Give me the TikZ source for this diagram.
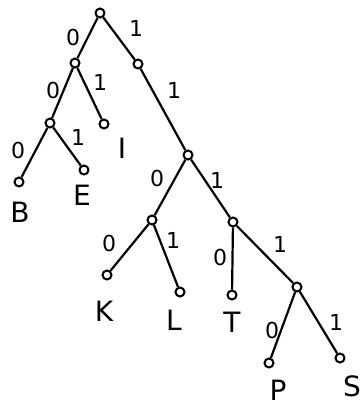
\documentclass[tikz,border=0pt]{standalone}
\usepackage{fontspec}
\setmainfont{DejaVu Sans}
\begin{document}
\begin{tikzpicture}[x=1pt,y=-1pt,
  vert/.style={circle,draw,line width=2pt,inner sep=0pt,minimum size=9pt},
  edge/.style={line width=2.2pt},
  bit/.style={font=\fontsize{22}{22}\selectfont},
  leaf/.style={font=\fontsize{28}{28}\selectfont}]
\fill[white] (0,0) rectangle (362,416);
\useasboundingbox (0,0) rectangle (362,416);
% vertices
\node[vert] (r) at (100,13) {};
\node[vert] (n1) at (75,63) {};
\node[vert] (n2) at (138,64) {};
\node[vert] (n4) at (50,123) {};
\node[vert] (lI) at (104,124) {};
\node[vert] (lB) at (19,182) {};
\node[vert] (lE) at (84,170) {};
\node[vert] (n3) at (188,155) {};
\node[vert] (n7) at (152,220) {};
\node[vert] (lK) at (107,275) {};
\node[vert] (lL) at (180,292) {};
\node[vert] (n8) at (233,222) {};
\node[vert] (lT) at (232,295) {};
\node[vert] (n9) at (297,287) {};
\node[vert] (lP) at (269,363) {};
\node[vert] (lS) at (340,358) {};
% edges
\draw[edge] (r) -- (n1);
\draw[edge] (r) -- (n2);
\draw[edge] (n2) -- (n3);
\draw[edge] (n1) -- (n4);
\draw[edge] (n1) -- (lI);
\draw[edge] (n4) -- (lB);
\draw[edge] (n4) -- (lE);
\draw[edge] (n3) -- (n7);
\draw[edge] (n3) -- (n8);
\draw[edge] (n7) -- (lK);
\draw[edge] (n7) -- (lL);
\draw[edge] (n8) -- (lT);
\draw[edge] (n8) -- (n9);
\draw[edge] (n9) -- (lP);
\draw[edge] (n9) -- (lS);
% bit labels
\node[bit] (b1) at (73,37) {0};
\node[bit] (b2) at (136,28) {1};
\node[bit] (b3) at (53,90) {0};
\node[bit] (b4) at (100,82) {1};
\node[bit] (b5) at (174,90) {1};
\node[bit] (b6) at (18,150) {0};
\node[bit] (b7) at (78,137) {1};
\node[bit] (b8) at (157,178) {0};
\node[bit] (b9) at (217,180) {1};
\node[bit] (b10) at (109,243) {0};
\node[bit] (b11) at (173,240) {1};
\node[bit] (b12) at (220,257) {0};
\node[bit] (b13) at (280,244) {1};
\node[bit] (b14) at (272,330) {0};
\node[bit] (b15) at (336,322) {1};
% leaf labels
\node[leaf] (tB) at (20,212) {B};
\node[leaf] (tE) at (82,195) {E};
\node[leaf] (tI) at (122,148) {I};
\node[leaf] (tK) at (104,311) {K};
\node[leaf] (tL) at (174,320) {L};
\node[leaf] (tT) at (232,322) {T};
\node[leaf] (tP) at (278,390) {P};
\node[leaf] (tS) at (352,386) {S};
\end{tikzpicture}
\end{document}
